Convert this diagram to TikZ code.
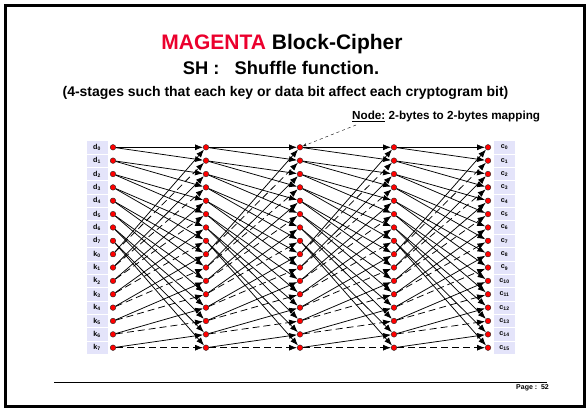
\documentclass[tikz,border=0pt]{standalone}
\usepackage{fontspec}
\setmainfont{Liberation Sans}
\usetikzlibrary{arrows.meta}

\definecolor{magred}{RGB}{235,0,45}
\definecolor{lavender}{RGB}{228,228,250}

\tikzset{
  bit/.style={circle, draw=black!85, fill=red, inner sep=0pt, minimum size=5.6pt, line width=0.4pt},
  wire/.style={-{Latex[length=8pt,width=6pt]}, line width=0.75pt},
  keywire/.style={wire, dash pattern=on 7pt off 4pt},
  lbl/.style={fill=lavender, draw=white, line width=0.6pt, minimum width=22pt, minimum height=13.36pt, inner sep=0pt, font=\bfseries\fontsize{7.2}{8}\selectfont},
}

\begin{document}
\begin{tikzpicture}[x=1pt,y=-1pt]
\useasboundingbox (0,0) rectangle (586,409);

% draw slide frame
\draw [line width=2.6pt] (5.3,5.3) rectangle (584.7,406.3);

% titles
\node [anchor=base] (title) at (282,50) {\fontsize{21}{24}\selectfont\bfseries\textcolor{magred}{MAGENTA} Block-Cipher};
\node [anchor=base] (subtitle) at (281,75) {\fontsize{18.3}{21}\selectfont\bfseries SH :\ \ \ Shuffle function.};
\node [anchor=base] (stages) at (285.5,97) {\fontsize{14}{16}\selectfont\bfseries (4-stages such that each key or data bit affect each cryptogram bit)};
\node [anchor=base west, inner sep=0pt] (note) at (352,120) {\fontsize{11.7}{13}\selectfont\bfseries \underline{Node:} 2-bytes to 2-bytes mapping};

% input and output labels
\foreach \r in {0,...,7} {
  \node [lbl] (d\r) at (97,{147.3+13.36*\r}) {d\textsubscript{\r}};
  \node [lbl] (k\r) at (97,{147.3+13.36*(\r+8)}) {k\textsubscript{\r}};
}
\foreach \r in {0,...,15}
  \node [lbl] (c\r) at (504.5,{147.3+13.36*\r}) {c\textsubscript{\r}};

% draw nodes of the 5 columns
\foreach \c/\x in {1/113,2/206,3/300,4/394,5/488}
  \foreach \r in {0,...,15}
    \node [bit] (n-\c-\r) at (\x,{147.3+13.36*\r}) {};

% shuffle wires between columns
\foreach \c [evaluate=\c as \n using int(\c+1)] in {1,...,4}
  \foreach \r in {0,...,7} {
    \pgfmathtruncatemacro\a{2*\r}
    \pgfmathtruncatemacro\b{2*\r+1}
    \pgfmathtruncatemacro\k{\r+8}
    \draw [wire] (n-\c-\r) -- (n-\n-\a);
    \draw [wire] (n-\c-\r) -- (n-\n-\b);
    \draw [wire] (n-\c-\k) -- (n-\n-\a);
    \draw [keywire] (n-\c-\k) -- (n-\n-\b);
  }

% pointer from note to a node
\coordinate (callout) at (356,125);
\draw [dashed, line width=0.4pt, -{Stealth[length=4pt,width=3pt]}] (callout) -- (n-3-0);

% footer
\draw [line width=0.8pt] (54,382.3) coordinate (rule-a) -- (547,382.3) coordinate (rule-b);
\node [anchor=base west, inner sep=0pt] (page) at (516,389) {\fontsize{7}{8}\selectfont\bfseries Page :\ \ 52};

\end{tikzpicture}
\end{document}
